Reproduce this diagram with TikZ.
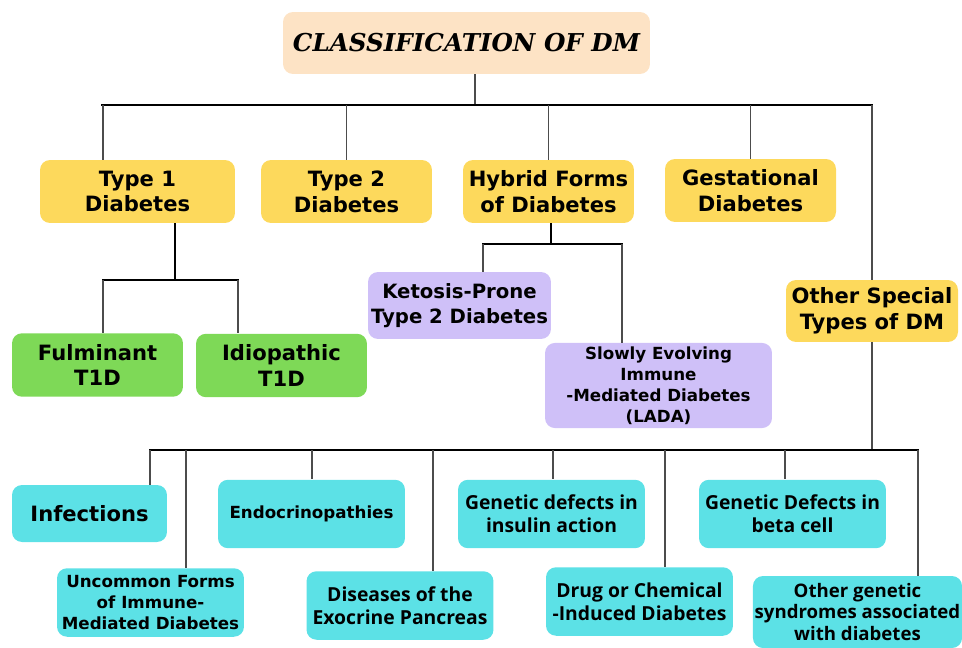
\documentclass[tikz,border=0pt]{standalone}
\usepackage{fontspec}
\newfontfamily\headfont{DejaVu Serif}
\newfontfamily\boxfont{DejaVu Sans}
\newfontfamily\opfont{Open Sans}
\definecolor{peach}{HTML}{FDE3C5}
\definecolor{gold}{HTML}{FDD95C}
\definecolor{leaf}{HTML}{7ED957}
\definecolor{lilac}{HTML}{CFC0F8}
\definecolor{aqua}{HTML}{5CE1E6}

\begin{document}
\begin{tikzpicture}[x=0.02cm,y=-0.02cm]
\tikzset{box/.style = {rounded corners=0.2cm, inner sep=2pt, align=center}}
\tikzset{bigtext/.style = {font=\boxfont\bfseries\fontsize{12}{14.7}\selectfont}}
\tikzset{midtext/.style = {font=\boxfont\bfseries\fontsize{9.5}{12}\selectfont}}
\tikzset{optext/.style = {font=\opfont\bfseries\fontsize{11}{13}\selectfont}}
\tikzset{cat/.style = {box, bigtext, fill=gold, minimum width=3.42cm, minimum height=1.26cm}}
\tikzset{t1d/.style = {box, bigtext, fill=leaf, minimum width=3.42cm, minimum height=1.27cm}}
\tikzset{hyb/.style = {box, fill=lilac}}
\tikzset{spec/.style = {box, fill=aqua, minimum width=3.74cm, minimum height=1.37cm}}
\tikzset{bus/.style = {line width=1.6pt, black}}
\tikzset{twig/.style = {line width=0.7pt, black!70}}
\useasboundingbox (0,0) rectangle (962,648);
% title
\node[box, fill=peach, minimum width=7.34cm, minimum height=1.24cm,
      font=\headfont\bfseries\itshape\fontsize{14}{16}\selectfont] (title) at (466.5,43) {CLASSIFICATION OF DM};
% main classes
\node[cat, minimum width=3.9cm] (t1) at (137.5,191.5) {Type 1\\Diabetes};
\node[cat] (t2) at (346.5,191.5) {Type 2\\Diabetes};
\node[cat] (hf) at (548.5,191.5) {Hybrid Forms\\of Diabetes};
\node[cat] (gd) at (750.5,190.5) {Gestational\\Diabetes};
\node[cat, minimum width=3.44cm, minimum height=1.24cm] (os) at (872,311) {Other Special\\Types of DM};
% type 1
\node[t1d] (fu) at (97.5,365) {Fulminant\\T1D};
\node[t1d] (id) at (281.5,365.5) {Idiopathic\\T1D};
% hybrid
\node[hyb, font=\boxfont\bfseries\fontsize{11.2}{14}\selectfont, inner sep=1pt,
      minimum width=3.66cm, minimum height=1.34cm] (kp) at (459.5,305.5) {Ketosis-Prone\\Type 2 Diabetes};
\node[hyb, midtext, minimum width=4.54cm, minimum height=1.66cm] (se) at (658.5,385.5) {Slowly Evolving\\Immune\\-Mediated Diabetes\\(LADA)};
% other special types
\node[spec, bigtext, minimum width=3.1cm, minimum height=1.14cm] (in) at (89.5,513.5) {Infections};
\node[spec, midtext] (uf) at (150.5,602.5) {Uncommon Forms\\of Immune-\\Mediated Diabetes};
\node[spec, midtext] (en) at (311.5,514) {Endocrinopathies};
\node[spec, optext] (ep) at (400,605.5) {Diseases of the\\Exocrine Pancreas};
\node[spec, optext] (ia) at (551.5,514) {Genetic defects in\\insulin action};
\node[spec, optext] (dc) at (639.5,601.5) {Drug or Chemical\\-Induced Diabetes};
\node[spec, optext] (bc) at (792.5,514) {Genetic Defects in\\beta cell};
\node[spec, font=\opfont\bfseries\fontsize{10.6}{12.4}\selectfont, inner sep=1pt,
      minimum width=4.18cm, minimum height=1.44cm] (gs) at (857.5,612) {Other genetic\\syndromes associated\\with diabetes};
% buses
\coordinate (b1l) at (101,105);
\coordinate (b1r) at (873,105);
\coordinate (b2l) at (102,280);
\coordinate (b2r) at (239,280);
\coordinate (b3l) at (482,244);
\coordinate (b3r) at (623,244);
\coordinate (b4l) at (149,450);
\coordinate (b4r) at (919,450);
\draw[twig] (title.south -| 475,0) -- (b1l -| 475,0);
\draw[bus] (b1l) -- (b1r);
\draw[twig] (b1l -| 103,0) -- (t1.north -| 103,0);
\draw[twig] (b1l -| t2.north) -- (t2.north);
\draw[twig] (b1l -| hf.north) -- (hf.north);
\draw[twig] (b1l -| gd.north) -- (gd.north);
\draw[twig] (b1r -| os.north) -- (os.north);
% type 1 branch
\draw[bus] (t1.south -| 175,0) -- (b2l -| 175,0);
\draw[bus] (b2l) -- (b2r);
\draw[twig] (b2l -| 103,0) -- (fu.north -| 103,0);
\draw[twig] (b2r -| 238,0) -- (id.north -| 238,0);
% hybrid branch
\draw[bus] (hf.south -| 551,0) -- (b3l -| 551,0);
\draw[bus] (b3l) -- (b3r);
\draw[twig] (b3l -| 483,0) -- (kp.north -| 483,0);
\draw[twig] (b3r -| 622,0) -- (se.north -| 622,0);
% other special branch
\draw[twig] (os.south) -- (b4l -| os.south);
\draw[bus] (b4l) -- (b4r);
\draw[twig] (b4l -| 150,0) -- (in.north -| 150,0);
\draw[twig] (b4l -| 186,0) -- (uf.north -| 186,0);
\draw[twig] (b4l -| 312,0) -- (en.north -| 312,0);
\draw[twig] (b4l -| 433,0) -- (ep.north -| 433,0);
\draw[twig] (b4l -| 553,0) -- (ia.north -| 553,0);
\draw[twig] (b4l -| 665,0) -- (dc.north -| 665,0);
\draw[twig] (b4l -| 785,0) -- (bc.north -| 785,0);
\draw[twig] (b4l -| 918,0) -- (gs.north -| 918,0);
\end{tikzpicture}
\end{document}
